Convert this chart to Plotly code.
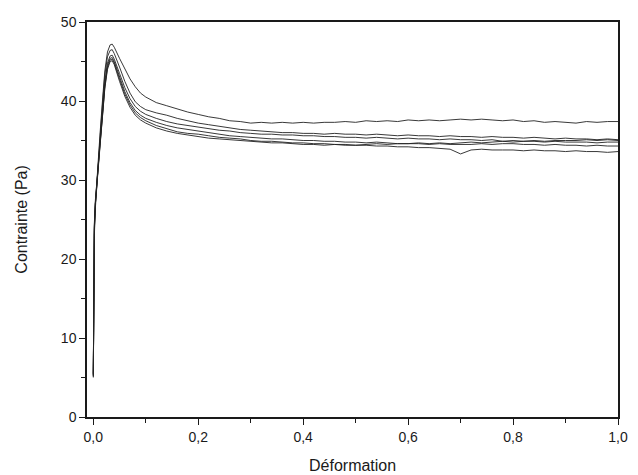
import plotly.graph_objects as go

# Strain (shared x grid)
deformation = [0.000, 0.001, 0.002, 0.004, 0.008, 0.013, 0.018, 0.022, 0.027, 0.032,
               0.036, 0.040, 0.050, 0.060, 0.070, 0.080, 0.090, 0.100, 0.120, 0.140,
               0.160, 0.180, 0.200,
               0.22, 0.24, 0.26, 0.28, 0.30, 0.32, 0.34, 0.36, 0.38, 0.40,
               0.42, 0.44, 0.46, 0.48, 0.50, 0.52, 0.54, 0.56, 0.58, 0.60,
               0.62, 0.64, 0.66, 0.68, 0.70, 0.72, 0.74, 0.76, 0.78, 0.80,
               0.82, 0.84, 0.86, 0.88, 0.90, 0.92, 0.94, 0.96, 0.98, 1.00]

essai1 = [5.2, 17.5, 23.5, 27.0, 31.5, 36.0, 40.5, 43.8, 46.2, 47.1, 47.2, 46.8, 45.4, 44.0, 42.8,
          41.8, 41.0, 40.5, 39.8, 39.4, 39.0, 38.6, 38.3,
          38.0, 37.8, 37.5, 37.4, 37.2, 37.3, 37.2, 37.3, 37.2, 37.3,
          37.2, 37.3, 37.3, 37.4, 37.3, 37.5, 37.4, 37.5, 37.4, 37.6,
          37.5, 37.6, 37.5, 37.6, 37.7, 37.6, 37.7, 37.6, 37.5, 37.6,
          37.4, 37.5, 37.3, 37.4, 37.3, 37.2, 37.4, 37.3, 37.4, 37.4]

essai2 = [5.0, 17.0, 23.0, 26.5, 31.0, 35.5, 40.0, 43.3, 45.6, 46.4, 46.5, 46.0, 44.3, 42.5, 41.0,
          39.9, 39.3, 38.9, 38.5, 38.2, 37.8, 37.5, 37.2,
          37.0, 36.8, 36.6, 36.4, 36.3, 36.2, 36.1, 36.0, 36.0, 35.9,
          35.9, 35.8, 35.9, 35.8, 35.8, 35.7, 35.8, 35.7, 35.6, 35.7,
          35.6, 35.6, 35.5, 35.6, 35.5, 35.5, 35.4, 35.5, 35.4, 35.4,
          35.3, 35.4, 35.3, 35.2, 35.3, 35.2, 35.2, 35.1, 35.2, 35.1]

essai3 = [5.3, 18.0, 24.0, 27.0, 31.0, 35.0, 39.0, 42.5, 44.8, 45.7, 45.8, 45.3, 43.5, 41.7, 40.3,
          39.3, 38.7, 38.3, 37.8, 37.4, 37.1, 36.9, 36.7,
          36.5, 36.3, 36.2, 36.0, 35.9, 35.8, 35.8, 35.7, 35.7, 35.6,
          35.6, 35.5, 35.5, 35.4, 35.4, 35.3, 35.4, 35.3, 35.2, 35.3,
          35.2, 35.2, 35.1, 35.2, 35.1, 35.1, 35.0, 35.1, 34.9, 35.0,
          34.9, 34.9, 34.8, 34.9, 34.8, 34.8, 34.8, 34.7, 34.8, 34.8]

essai4 = [5.5, 18.5, 24.5, 27.5, 31.0, 34.8, 38.7, 42.0, 44.5, 45.4, 45.5, 45.0, 43.0, 41.2, 39.8,
          38.8, 38.2, 37.8, 37.3, 36.9, 36.6, 36.4, 36.2,
          36.0, 35.8, 35.6, 35.5, 35.4, 35.3, 35.2, 35.2, 35.1, 35.0,
          35.0, 34.9, 34.9, 34.8, 34.8, 34.7, 34.8, 34.7, 34.6, 34.6,
          34.6, 34.5, 34.6, 34.5, 34.5, 34.5, 34.6, 34.5, 34.6, 34.6,
          34.5, 34.5, 34.4, 34.5, 34.4, 34.4, 34.3, 34.4, 34.3, 34.3]

essai5 = [5.1, 17.8, 23.8, 27.0, 30.5, 34.5, 38.5, 41.8, 44.2, 45.2, 45.3, 44.8, 42.8, 40.9, 39.5,
          38.5, 37.9, 37.5, 36.9, 36.5, 36.1, 35.9, 35.8,
          35.6, 35.4, 35.3, 35.2, 35.0, 34.9, 34.9, 34.8, 34.7, 34.7,
          34.6, 34.6, 34.5, 34.5, 34.4, 34.4, 34.3, 34.3, 34.2, 34.2,
          34.1, 34.1, 34.0, 33.9, 33.3, 33.8, 33.9, 33.8, 33.8, 33.8,
          33.7, 33.8, 33.7, 33.7, 33.6, 33.7, 33.6, 33.6, 33.5, 33.6]

essai6 = [5.4, 18.2, 24.2, 27.2, 30.8, 34.6, 38.4, 41.6, 44.0, 45.0, 45.1, 44.6, 42.5, 40.6, 39.2,
          38.2, 37.6, 37.2, 36.6, 36.2, 35.9, 35.7, 35.5,
          35.3, 35.2, 35.1, 35.0, 34.9, 34.8, 34.7, 34.7, 34.6, 34.5,
          34.5, 34.4, 34.5, 34.4, 34.4, 34.5, 34.6, 34.5, 34.6, 34.6,
          34.7, 34.6, 34.7, 34.6, 34.7, 34.8, 34.7, 34.8, 34.9, 34.8,
          34.9, 35.0, 34.9, 35.0, 35.0, 35.0, 35.1, 35.0, 35.1, 35.0]

series = [essai1, essai2, essai3, essai4, essai5, essai6]

x_tickvals = [0.0, 0.2, 0.4, 0.6, 0.8, 1.0]
x_ticktext = ["0,0", "0,2", "0,4", "0,6", "0,8", "1,0"]
y_tickvals = [0, 10, 20, 30, 40, 50]
y_ticktext = ["0", "10", "20", "30", "40", "50"]

FONT = "Liberation Sans, Arial, sans-serif"
INK = "#1a1a1a"

fig = go.Figure()
for s in series:
    fig.add_trace(go.Scatter(x=deformation, y=s, mode="lines",
                             line=dict(color="#222222", width=0.9),
                             showlegend=False, hoverinfo="skip"))

axis_common = dict(showline=True, linecolor=INK, linewidth=1.5, mirror=True,
                   showgrid=False, zeroline=False, ticks="outside",
                   tickcolor=INK, tickwidth=1.2, ticklabeloverflow="allow",
                   tickfont=dict(family=FONT, size=14, color=INK))

fig.update_xaxes(range=[-0.012, 1.0], tickvals=x_tickvals, ticktext=x_ticktext,
                 ticklen=6,
                 minor=dict(ticks="outside", dtick=0.1, tick0=0, ticklen=4,
                            tickcolor=INK, tickwidth=1.2),
                 **axis_common)
fig.update_yaxes(range=[0, 50], tickvals=y_tickvals, ticktext=y_ticktext,
                 ticklen=6,
                 minor=dict(ticks="outside", dtick=5, tick0=0, ticklen=4,
                            tickcolor=INK, tickwidth=1.2),
                 **axis_common)

fig.add_annotation(text="Déformation", xref="paper", yref="paper",
                   x=0.5, y=-0.124, xanchor="center", yanchor="middle",
                   showarrow=False, font=dict(family=FONT, size=16, color=INK))
fig.add_annotation(text="Contrainte (Pa)", xref="paper", yref="paper",
                   x=-0.124, y=0.5, xanchor="center", yanchor="middle",
                   textangle=-90, showarrow=False,
                   font=dict(family=FONT, size=16, color=INK))

fig.update_layout(width=638, height=475,
                  margin=dict(l=87, r=10, t=22, b=58, pad=0),
                  paper_bgcolor="white", plot_bgcolor="white")

fig.write_html("out.html", config={"displayModeBar": False},
               post_script="document.body.style.margin='0';document.body.style.overflow='hidden';")
